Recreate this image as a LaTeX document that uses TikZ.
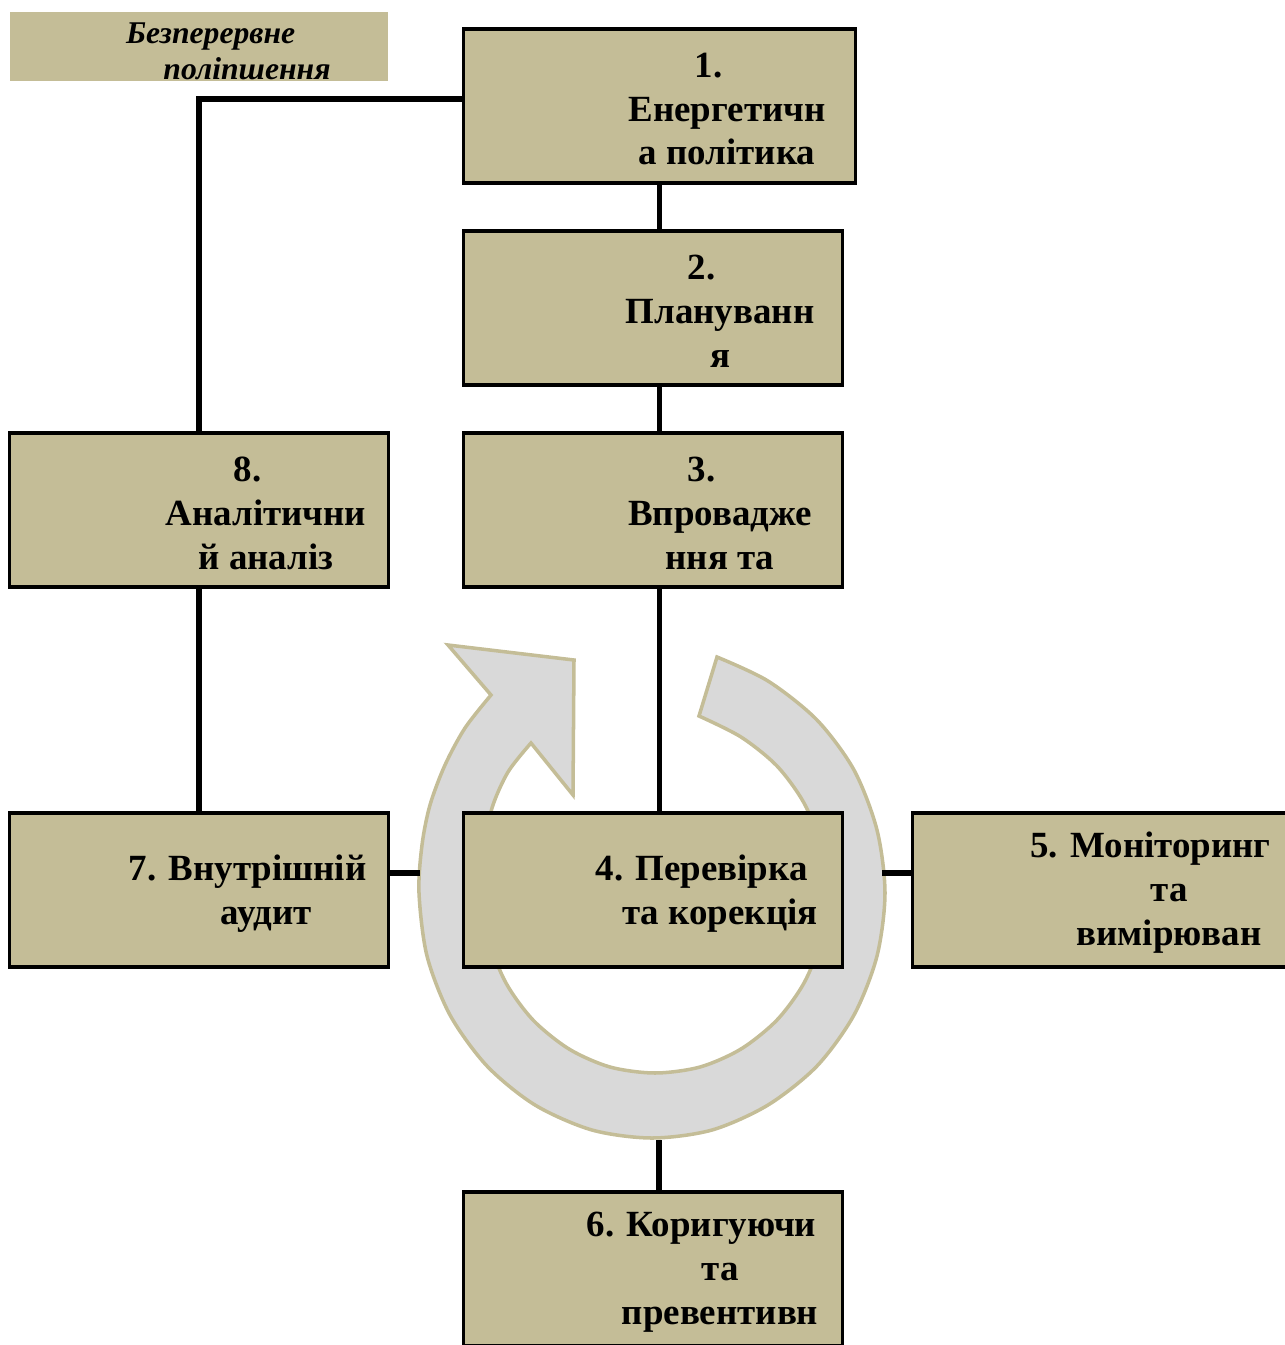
\documentclass[tikz,border=0pt]{standalone}
\usepackage{fontspec}
\setmainfont{Liberation Serif}
\definecolor{boxtan}{HTML}{C4BD97}
\definecolor{ringgray}{HTML}{D9D9D9}
\begin{document}
\begin{tikzpicture}[x=0.01cm, y=-0.01cm,
    stage/.style={draw, fill=boxtan, line width=0.9pt, minimum width=3.78cm, minimum height=1.54cm, inner sep=0pt},
    txt/.style={align=center, inner sep=0pt, font=\bfseries\fontsize{10.5}{12.5}\selectfont},
    link/.style={line width=1.45pt}]
  \useasboundingbox (0,0) rectangle (1284,1345);
  \draw[draw=boxtan, fill=ringgray, line width=1pt, line join=miter]
    (717,657) -- plot[smooth] coordinates {(717,657) (768,681) (817,720) (854,770) (877,830)
      (885,893) (877,956) (854,1015) (817,1066) (768,1105) (712,1130) (652,1138) (592,1130)
      (535,1105) (487,1066) (450,1015) (427,956) (419,893) (422,845) (430,805) (445,765)
      (465,728) (491,695)}
    -- (448,645) -- (574,660) -- (573,795) -- (531,743)
    -- plot[smooth] coordinates {(531,743) (508,772) (492,808) (484,850) (483,893) (489,940)
      (506,983) (533,1020) (569,1049) (610,1067) (655,1073) (700,1067) (741,1049) (777,1020)
      (804,983) (821,940) (827,893) (821,846) (804,803) (777,766) (741,737) (699,716)}
    -- cycle;
  \node[fill=boxtan, minimum width=3.78cm, minimum height=0.69cm, inner sep=0pt] (cont) at (199,46.5) {};
  \node[align=center, inner sep=0pt, font=\bfseries\itshape\fontsize{9}{10.2}\selectfont] (tcont) at (247,51)
    {Безперервне\hspace*{2.3em}\\поліпшення};
  \node[stage, minimum width=3.91cm] (1) at (659.5,106) {};
  \node[stage] (2) at (653,308) {};
  \node[stage] (3) at (653,510) {};
  \node[stage] (4) at (653,890) {};
  \node[stage] (5) at (1102,890) {};
  \node[stage] (6) at (653,1269) {};
  \node[stage] (7) at (199,890) {};
  \node[stage] (8) at (199,510) {};
  \node[txt] (t1) at ([xshift=0.675cm, yshift=-0.03cm]1.center) {1.\hspace*{1em}\\Енергетичн\\а політика};
  \node[txt] (t2) at ([xshift=0.67cm, yshift=-0.03cm]2.center) {2.\hspace*{1em}\\Плануванн\\я};
  \node[txt] (t3) at ([xshift=0.67cm, yshift=-0.03cm]3.center) {3.\hspace*{1em}\\Впровадже\\ння та};
  \node[txt] (t4) at ([xshift=0.67cm, yshift=-0.04cm]4.center) {4. Перевірка\hspace*{1em}\\та корекція};
  \node[txt] (t5) at ([xshift=0.67cm, yshift=-0.03cm]5.center) {5. Моніторинг\hspace*{1em}\\та\\вимірюван};
  \node[txt] (t6) at ([xshift=0.67cm, yshift=-0.03cm]6.center) {6. Коригуючи\hspace*{1em}\\та\\превентивн};
  \node[txt] (t7) at ([xshift=0.67cm, yshift=-0.04cm]7.center) {7. Внутрішній\hspace*{1em}\\аудит};
  \node[txt] (t8) at ([xshift=0.67cm, yshift=-0.03cm]8.center) {8.\hspace*{1em}\\Аналітични\\й аналіз};
  \coordinate (rw) at (420,873);
  \coordinate (re) at (882,873);
  \coordinate (rs) at (659,1140);
  \begin{scope}[link]
    \draw ([yshift=0.07cm]1.west) -| (8.north);
    \draw (1.south) -- (1.south |- 2.north);
    \draw (1.south |- 2.south) -- (1.south |- 3.north);
    \draw (1.south |- 3.south) -- (1.south |- 4.north);
    \draw (8.south) -- (7.north);
    \draw (7.east |- rw) -- (rw);
    \draw (re) -- (re -| 5.west);
    \draw (rs) -- (rs |- 6.north);
  \end{scope}
\end{tikzpicture}
\end{document}
